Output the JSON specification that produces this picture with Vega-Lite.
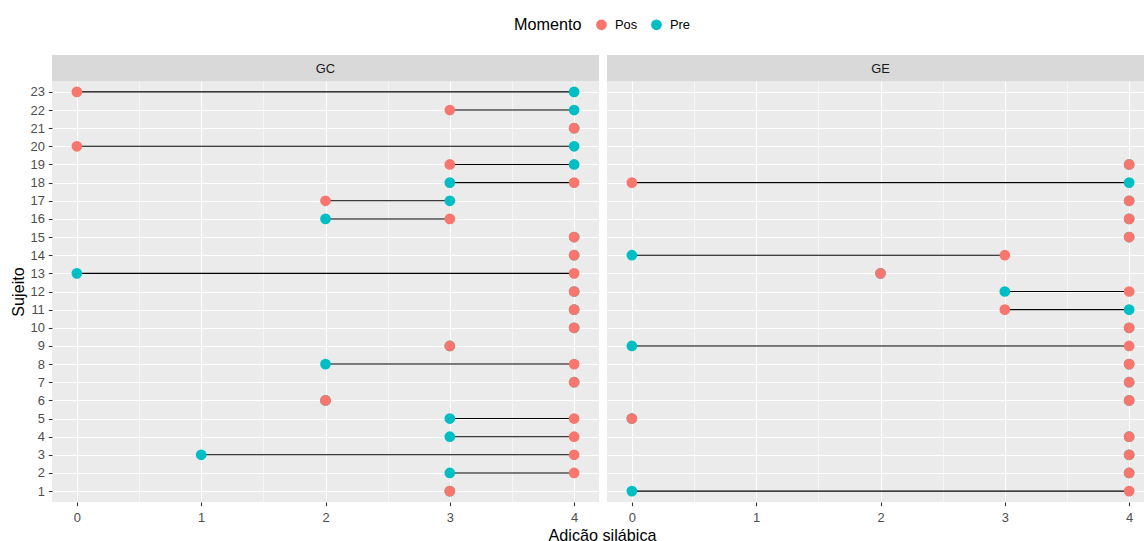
{
  "$schema": "https://vega.github.io/schema/vega-lite/v6.json",
  "padding": {"left": 10, "top": 18, "right": 0, "bottom": 0},
  "background": "white",
  "datasets": {
    "d": [
      {"Grupo": "GC", "Sujeito": 1, "Pre": 3, "Pos": 3},
      {"Grupo": "GC", "Sujeito": 2, "Pre": 3, "Pos": 4},
      {"Grupo": "GC", "Sujeito": 3, "Pre": 1, "Pos": 4},
      {"Grupo": "GC", "Sujeito": 4, "Pre": 3, "Pos": 4},
      {"Grupo": "GC", "Sujeito": 5, "Pre": 3, "Pos": 4},
      {"Grupo": "GC", "Sujeito": 6, "Pre": 2, "Pos": 2},
      {"Grupo": "GC", "Sujeito": 7, "Pre": 4, "Pos": 4},
      {"Grupo": "GC", "Sujeito": 8, "Pre": 2, "Pos": 4},
      {"Grupo": "GC", "Sujeito": 9, "Pre": 3, "Pos": 3},
      {"Grupo": "GC", "Sujeito": 10, "Pre": 4, "Pos": 4},
      {"Grupo": "GC", "Sujeito": 11, "Pre": 4, "Pos": 4},
      {"Grupo": "GC", "Sujeito": 12, "Pre": 4, "Pos": 4},
      {"Grupo": "GC", "Sujeito": 13, "Pre": 0, "Pos": 4},
      {"Grupo": "GC", "Sujeito": 14, "Pre": 4, "Pos": 4},
      {"Grupo": "GC", "Sujeito": 15, "Pre": 4, "Pos": 4},
      {"Grupo": "GC", "Sujeito": 16, "Pre": 2, "Pos": 3},
      {"Grupo": "GC", "Sujeito": 17, "Pre": 3, "Pos": 2},
      {"Grupo": "GC", "Sujeito": 18, "Pre": 3, "Pos": 4},
      {"Grupo": "GC", "Sujeito": 19, "Pre": 4, "Pos": 3},
      {"Grupo": "GC", "Sujeito": 20, "Pre": 4, "Pos": 0},
      {"Grupo": "GC", "Sujeito": 21, "Pre": 4, "Pos": 4},
      {"Grupo": "GC", "Sujeito": 22, "Pre": 4, "Pos": 3},
      {"Grupo": "GC", "Sujeito": 23, "Pre": 4, "Pos": 0},
      {"Grupo": "GE", "Sujeito": 1, "Pre": 0, "Pos": 4},
      {"Grupo": "GE", "Sujeito": 2, "Pre": 4, "Pos": 4},
      {"Grupo": "GE", "Sujeito": 3, "Pre": 4, "Pos": 4},
      {"Grupo": "GE", "Sujeito": 4, "Pre": 4, "Pos": 4},
      {"Grupo": "GE", "Sujeito": 5, "Pre": 0, "Pos": 0},
      {"Grupo": "GE", "Sujeito": 6, "Pre": 4, "Pos": 4},
      {"Grupo": "GE", "Sujeito": 7, "Pre": 4, "Pos": 4},
      {"Grupo": "GE", "Sujeito": 8, "Pre": 4, "Pos": 4},
      {"Grupo": "GE", "Sujeito": 9, "Pre": 0, "Pos": 4},
      {"Grupo": "GE", "Sujeito": 10, "Pre": 4, "Pos": 4},
      {"Grupo": "GE", "Sujeito": 11, "Pre": 4, "Pos": 3},
      {"Grupo": "GE", "Sujeito": 12, "Pre": 3, "Pos": 4},
      {"Grupo": "GE", "Sujeito": 13, "Pre": 2, "Pos": 2},
      {"Grupo": "GE", "Sujeito": 14, "Pre": 0, "Pos": 3},
      {"Grupo": "GE", "Sujeito": 15, "Pre": 4, "Pos": 4},
      {"Grupo": "GE", "Sujeito": 16, "Pre": 4, "Pos": 4},
      {"Grupo": "GE", "Sujeito": 17, "Pre": 4, "Pos": 4},
      {"Grupo": "GE", "Sujeito": 18, "Pre": 4, "Pos": 0},
      {"Grupo": "GE", "Sujeito": 19, "Pre": 4, "Pos": 4}
    ],
    "strips": [
      {"Grupo": "GC"},
      {"Grupo": "GE"}
    ]
  },
  "title": {
    "text": "Adição silábica",
    "orient": "bottom",
    "anchor": "middle",
    "fontSize": 16.2,
    "font": "Liberation Sans",
    "fontWeight": "normal",
    "color": "black",
    "offset": 4,
    "dx": 20
  },
  "config": {
    "font": "Liberation Sans",
    "view": {"stroke": null},
    "axis": {
      "domain": false,
      "tickColor": "#333333",
      "tickSize": 3.7,
      "tickWidth": 1.07,
      "labelColor": "#4D4D4D",
      "labelFontSize": 12.9,
      "labelFont": "Liberation Sans",
      "labelPadding": 2,
      "gridColor": "white",
      "gridWidth": 1.07,
      "gridOpacity": 1,
      "titleFont": "Liberation Sans",
      "titleFontSize": 16.2,
      "titleFontWeight": "normal",
      "titleColor": "black"
    },
    "legend": {
      "titleFont": "Liberation Sans",
      "labelFont": "Liberation Sans"
    }
  },
  "spacing": 8,
  "hconcat": [
    {
      "spacing": 0,
      "vconcat": [
        {
          "width": 547,
          "height": 26,
          "data": {"name": "strips"},
          "transform": [{"filter": "datum.Grupo === 'GC'"}],
          "view": {"fill": "#D9D9D9", "stroke": null},
          "mark": {"type": "text", "fontSize": 12.9, "color": "#1A1A1A", "font": "Liberation Sans", "baseline": "middle", "dy": 1},
          "encoding": {"text": {"field": "Grupo"}}
        },
        {
          "width": 547,
          "height": 421,
          "data": {"name": "d"},
          "transform": [{"filter": "datum.Grupo === 'GC'"}],
          "view": {"fill": "#EBEBEB", "stroke": null},
          "encoding": {
            "y": {
              "field": "Sujeito",
              "type": "ordinal",
              "scale": {"type": "point", "domain": [23,22,21,20,19,18,17,16,15,14,13,12,11,10,9,8,7,6,5,4,3,2,1], "padding": 0.6},
              "axis": {"title": "Sujeito", "titlePadding": 3, "labelPadding": 4, "grid": true}
            }
          },
          "layer": [
            {
              "mark": {"type": "rule", "color": "black", "strokeWidth": 1.07},
              "encoding": {
                "x": {
                  "field": "Pre",
                  "type": "quantitative",
                  "scale": {"domain": [-0.2, 4.2], "nice": false, "zero": false},
                  "axis": {
                    "title": null,
                    "values": [0, 0.5, 1, 1.5, 2, 2.5, 3, 3.5, 4],
                    "labelExpr": "datum.value % 1 === 0 ? format(datum.value, 'd') : ''",
                    "gridWidth": {"condition": {"test": "datum.value % 1 !== 0", "value": 0.55}, "value": 1.07},
                    "tickOpacity": {"condition": {"test": "datum.value % 1 !== 0", "value": 0}, "value": 1},
                    "labelPadding": 5.5
                  }
                },
                "x2": {"field": "Pos"}
              }
            },
            {
              "transform": [{"fold": ["Pre", "Pos"], "as": ["Momento", "valor"]}],
              "mark": {"type": "circle", "size": 115, "opacity": 1},
              "encoding": {
                "x": {"field": "valor", "type": "quantitative"},
                "color": {
                  "field": "Momento",
                  "type": "nominal",
                  "scale": {"domain": ["Pos", "Pre"], "range": ["#F8766D", "#00BFC4"]},
                  "legend": {
                    "title": "Momento",
                    "orient": "none",
                    "legendX": 462,
                    "legendY": -37,
                    "direction": "horizontal",
                    "titleOrient": "left",
                    "titleFontSize": 16.2,
                    "titleFontWeight": "normal",
                    "titleColor": "black",
                    "titlePadding": 13,
                    "labelFontSize": 12.9,
                    "labelColor": "black",
                    "labelOffset": 7,
                    "symbolType": "circle",
                    "symbolSize": 115,
                    "symbolOpacity": 1,
                    "symbolStrokeWidth": 0,
                    "columnPadding": 12
                  }
                }
              }
            }
          ]
        }
      ]
    },
    {
      "spacing": 0,
      "vconcat": [
        {
          "width": 547,
          "height": 26,
          "data": {"name": "strips"},
          "transform": [{"filter": "datum.Grupo === 'GE'"}],
          "view": {"fill": "#D9D9D9", "stroke": null},
          "mark": {"type": "text", "fontSize": 12.9, "color": "#1A1A1A", "font": "Liberation Sans", "baseline": "middle", "dy": 1},
          "encoding": {"text": {"field": "Grupo"}}
        },
        {
          "width": 547,
          "height": 421,
          "data": {"name": "d"},
          "transform": [{"filter": "datum.Grupo === 'GE'"}],
          "view": {"fill": "#EBEBEB", "stroke": null},
          "encoding": {
            "y": {
              "field": "Sujeito",
              "type": "ordinal",
              "scale": {"type": "point", "domain": [23,22,21,20,19,18,17,16,15,14,13,12,11,10,9,8,7,6,5,4,3,2,1], "padding": 0.6},
              "axis": {"title": null, "labels": false, "ticks": false, "domain": false, "grid": true}
            }
          },
          "layer": [
            {
              "mark": {"type": "rule", "color": "black", "strokeWidth": 1.07},
              "encoding": {
                "x": {
                  "field": "Pre",
                  "type": "quantitative",
                  "scale": {"domain": [-0.2, 4.2], "nice": false, "zero": false},
                  "axis": {
                    "title": null,
                    "values": [0, 0.5, 1, 1.5, 2, 2.5, 3, 3.5, 4],
                    "labelExpr": "datum.value % 1 === 0 ? format(datum.value, 'd') : ''",
                    "gridWidth": {"condition": {"test": "datum.value % 1 !== 0", "value": 0.55}, "value": 1.07},
                    "tickOpacity": {"condition": {"test": "datum.value % 1 !== 0", "value": 0}, "value": 1},
                    "labelPadding": 5.5
                  }
                },
                "x2": {"field": "Pos"}
              }
            },
            {
              "transform": [{"fold": ["Pre", "Pos"], "as": ["Momento", "valor"]}],
              "mark": {"type": "circle", "size": 115, "opacity": 1},
              "encoding": {
                "x": {"field": "valor", "type": "quantitative"},
                "color": {
                  "field": "Momento",
                  "type": "nominal",
                  "scale": {"domain": ["Pos", "Pre"], "range": ["#F8766D", "#00BFC4"]}
                }
              }
            }
          ]
        }
      ]
    }
  ]
}
